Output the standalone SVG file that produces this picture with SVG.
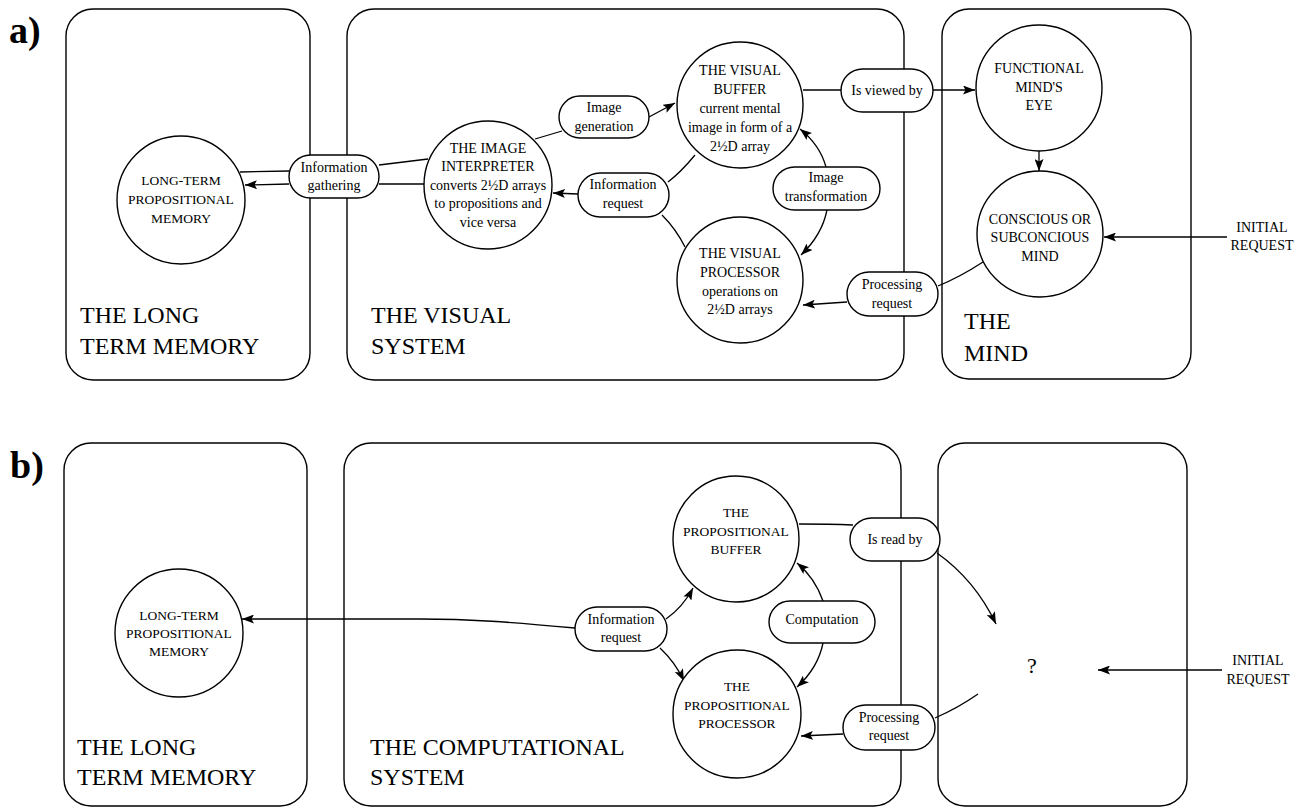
<svg xmlns="http://www.w3.org/2000/svg" width="1304" height="809" viewBox="0 0 1304 809">
<style>
.box{fill:none;stroke:#000;stroke-width:1.4}
.c{fill:#fff;stroke:#000;stroke-width:1.4}
.p{fill:#fff;stroke:#000;stroke-width:1.4}
.e{fill:none;stroke:#000;stroke-width:1.3}
.ea{fill:none;stroke:#000;stroke-width:1.3;marker-end:url(#ah)}
text{font-family:"Liberation Serif","Times New Roman",serif;fill:#000}
.t{font-size:14px;text-anchor:middle}
.ts{font-size:13.5px;text-anchor:middle}
.big{font-size:24px}
.lab{font-size:38px;font-weight:bold}
</style>
<defs>
<marker id="ah" viewBox="0 0 12 9" markerWidth="12" markerHeight="9" refX="12" refY="4.5" orient="auto" markerUnits="userSpaceOnUse">
<path d="M0,0 L12,4.5 L0,9 L2.5,4.5 z" fill="#000"/>
</marker>
</defs>
<rect width="1304" height="809" fill="#fff"/>

<!-- panel a -->
<text class="lab" x="9" y="43">a)</text>
<g id="box-a-ltm"><rect class="box" x="66" y="9" width="244" height="371" rx="27"/>
<text class="big" x="80" y="323">THE LONG</text><text class="big" x="80" y="354">TERM MEMORY</text></g>
<g id="box-a-visual"><rect class="box" x="347" y="9" width="557" height="371" rx="27"/>
<text class="big" x="371" y="323">THE VISUAL</text><text class="big" x="371" y="354">SYSTEM</text></g>
<g id="box-a-mind"><rect class="box" x="942" y="9" width="249" height="370" rx="27"/>
<text class="big" x="964" y="329">THE</text><text class="big" x="964" y="361">MIND</text></g>

<!-- panel b -->
<text class="lab" x="10" y="478">b)</text>
<g id="box-b-ltm"><rect class="box" x="64" y="443" width="243" height="363" rx="27"/>
<text class="big" x="77" y="755">THE LONG</text><text class="big" x="77" y="785">TERM MEMORY</text></g>
<g id="box-b-comp"><rect class="box" x="344" y="443" width="557" height="363" rx="27"/>
<text class="big" x="370" y="755">THE COMPUTATIONAL</text><text class="big" x="370" y="785">SYSTEM</text></g>
<g id="box-b-q"><rect class="box" x="938" y="443" width="249" height="363" rx="27"/></g>

<g id="connectors">
<!-- a -->
<path class="e" d="M240,172 L289,171"/>
<path class="ea" d="M289,184 L245,185"/>
<path class="e" d="M379,165 L428,159"/>
<path class="e" d="M379,184 L425,184"/>
<path class="e" d="M535,139 L562,131"/>
<path class="ea" d="M649,117 L675,103"/>
<path class="e" d="M695,155 Q681,172 668,182"/>
<path class="ea" d="M578,194 L553,193"/>
<path class="e" d="M662,215 Q676,229 685,247"/>
<path class="ea" d="M826,167 Q820,145 800,129"/>
<path class="ea" d="M827,210 Q822,235 801,255"/>
<path class="e" d="M803,90 L841,90"/>
<path class="ea" d="M933,90 L975,90"/>
<path class="ea" d="M1039,151 L1039,171"/>
<path class="ea" d="M1227,237 L1104,237"/>
<path class="e" d="M983,262 Q960,277 938,286"/>
<path class="ea" d="M847,302 L803,305"/>
<!-- b -->
<path class="ea" d="M575,628 C510,622 470,619 420,619 L242,619"/>
<path class="ea" d="M666,619 Q683,607 693,588"/>
<path class="ea" d="M660,648 Q675,662 684,681"/>
<path class="ea" d="M823,601 Q815,578 797,563"/>
<path class="ea" d="M823,643 Q818,668 797,687"/>
<path class="e" d="M799,524 Q830,524 853,525"/>
<path class="ea" d="M937,553 Q975,580 996,624"/>
<path class="ea" d="M1222,670 L1098,670"/>
<path class="e" d="M978,694 Q958,708 935,718"/>
<path class="ea" d="M843,734 L801,736"/>
</g>

<!-- nodes a -->
<g id="a-ltm"><circle class="c" cx="181" cy="200" r="64"/>
<text class="ts" x="181" y="185">LONG-TERM</text><text class="ts" x="181" y="204">PROPOSITIONAL</text><text class="ts" x="181" y="223">MEMORY</text></g>
<g id="a-interp"><circle class="c" cx="488" cy="185" r="64"/>
<text class="t" x="488" y="153">THE IMAGE</text><text class="t" x="488" y="171">INTERPRETER</text><text class="t" x="488" y="190">converts 2½D arrays</text><text class="t" x="488" y="208">to propositions and</text><text class="t" x="488" y="227">vice versa</text></g>
<g id="a-buffer"><circle class="c" cx="740" cy="105" r="63"/>
<text class="t" x="740" y="75">THE VISUAL</text><text class="t" x="740" y="94">BUFFER</text><text class="t" x="740" y="113">current mental</text><text class="t" x="740" y="132">image in form of a</text><text class="t" x="740" y="151">2½D array</text></g>
<g id="a-processor"><circle class="c" cx="740" cy="280" r="63"/>
<text class="t" x="740" y="258">THE VISUAL</text><text class="t" x="740" y="277">PROCESSOR</text><text class="t" x="740" y="296">operations on</text><text class="t" x="740" y="314">2½D arrays</text></g>
<g id="a-eye"><circle class="c" cx="1039" cy="88" r="63"/>
<text class="t" x="1039" y="73">FUNCTIONAL</text><text class="t" x="1039" y="92">MIND'S</text><text class="t" x="1039" y="110">EYE</text></g>
<g id="a-mind"><circle class="c" cx="1040" cy="234" r="63"/>
<text class="t" x="1040" y="224">CONSCIOUS OR</text><text class="t" x="1040" y="242">SUBCONCIOUS</text><text class="t" x="1040" y="261">MIND</text></g>
<g id="a-initial"><text class="t" x="1262" y="232">INITIAL</text><text class="t" x="1262" y="250">REQUEST</text></g>
<g id="a-gather"><rect class="p" x="289" y="155" width="90" height="43" rx="21.5"/>
<text class="t" x="334" y="172">Information</text><text class="t" x="334" y="190">gathering</text></g>
<g id="a-gen"><rect class="p" x="559" y="96" width="90" height="42" rx="21"/>
<text class="t" x="604" y="112">Image</text><text class="t" x="604" y="131">generation</text></g>
<g id="a-inforeq"><rect class="p" x="578" y="173" width="91" height="44" rx="22"/>
<text class="t" x="623" y="189">Information</text><text class="t" x="623" y="208">request</text></g>
<g id="a-transf"><rect class="p" x="773" y="167" width="107" height="43" rx="21.5"/>
<text class="t" x="826" y="182">Image</text><text class="t" x="826" y="201">transformation</text></g>
<g id="a-viewed"><rect class="p" x="841" y="69" width="92" height="43" rx="21.5"/>
<text class="t" x="887" y="95">Is viewed by</text></g>
<g id="a-procreq"><rect class="p" x="847" y="272" width="91" height="44" rx="22"/>
<text class="t" x="892" y="289">Processing</text><text class="t" x="892" y="308">request</text></g>

<!-- nodes b -->
<g id="b-ltm"><circle class="c" cx="179" cy="633" r="64"/>
<text class="ts" x="179" y="620">LONG-TERM</text><text class="ts" x="179" y="638">PROPOSITIONAL</text><text class="ts" x="179" y="656">MEMORY</text></g>
<g id="b-buffer"><circle class="c" cx="736" cy="539" r="63"/>
<text class="ts" x="736" y="517">THE</text><text class="ts" x="736" y="536">PROPOSITIONAL</text><text class="ts" x="736" y="554">BUFFER</text></g>
<g id="b-processor"><circle class="c" cx="737" cy="714" r="64"/>
<text class="ts" x="737" y="691">THE</text><text class="ts" x="737" y="710">PROPOSITIONAL</text><text class="ts" x="737" y="728">PROCESSOR</text></g>
<g id="b-q"><text x="1032" y="673" style="font-size:22px;text-anchor:middle">?</text></g>
<g id="b-initial"><text class="t" x="1258" y="665">INITIAL</text><text class="t" x="1258" y="684">REQUEST</text></g>
<g id="b-inforeq"><rect class="p" x="575" y="607" width="92" height="44" rx="22"/>
<text class="t" x="621" y="624">Information</text><text class="t" x="621" y="642">request</text></g>
<g id="b-comp"><rect class="p" x="769" y="601" width="106" height="42" rx="21"/>
<text class="t" x="822" y="624">Computation</text></g>
<g id="b-read"><rect class="p" x="850" y="518" width="90" height="43" rx="21.5"/>
<text class="t" x="895" y="544">Is read by</text></g>
<g id="b-procreq"><rect class="p" x="843" y="705" width="92" height="45" rx="22.5"/>
<text class="t" x="889" y="722">Processing</text><text class="t" x="889" y="740">request</text></g>
</svg>
